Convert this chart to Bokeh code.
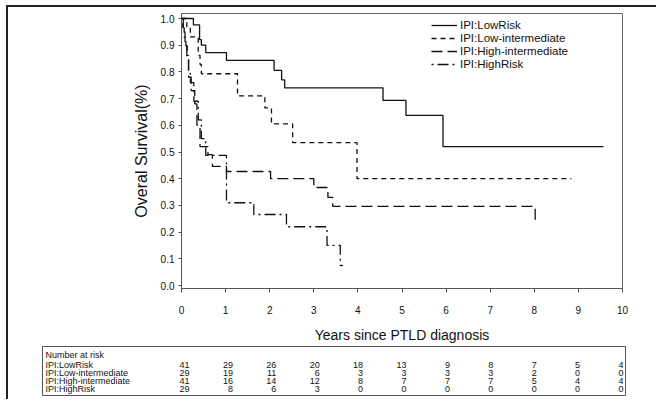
from bokeh.plotting import figure
from bokeh.models import Legend, LegendItem, Range1d, FixedTicker, CustomJSTickFormatter
from bokeh.embed import file_html
from bokeh.resources import INLINE
from bokeh.core.properties import value

# ---------------- data ----------------
series_names = ["IPI:LowRisk", "IPI:Low-intermediate", "IPI:High-intermediate", "IPI:HighRisk"]

low_t = [0.0, 0.27, 0.41, 0.45, 0.55, 1.02, 2.10, 2.27, 2.34, 4.57, 5.09, 5.93, 9.57]
low_s = [1.0, 0.976, 0.921, 0.900, 0.872, 0.843, 0.806, 0.770, 0.740, 0.693, 0.637, 0.520, 0.520]

lowint_t = [0.0, 0.12, 0.20, 0.38, 0.42, 0.45, 1.27, 1.89, 2.04, 2.52, 3.98, 8.84]
lowint_s = [1.0, 0.966, 0.931, 0.862, 0.828, 0.793, 0.710, 0.665, 0.605, 0.535, 0.400, 0.400]

highint_t = [0.0, 0.04, 0.08, 0.12, 0.16, 0.22, 0.30, 0.35, 0.42, 0.60, 0.70, 1.02, 2.02, 3.00, 3.32, 3.43, 8.02, 8.03]
highint_s = [1.0, 0.950, 0.900, 0.850, 0.780, 0.730, 0.680, 0.600, 0.520, 0.490, 0.446, 0.427, 0.400, 0.367, 0.330, 0.296, 0.232, 0.232]

high_t = [0.0, 0.03, 0.06, 0.10, 0.13, 0.16, 0.20, 0.28, 0.38, 0.45, 0.55, 1.02, 1.64, 2.38, 3.30, 3.60, 3.66]
high_s = [1.0, 0.966, 0.930, 0.897, 0.862, 0.800, 0.760, 0.690, 0.620, 0.550, 0.487, 0.310, 0.266, 0.220, 0.150, 0.075, 0.075]

x_ticks = list(range(0, 11))
y_ticks = [0.0, 0.1, 0.2, 0.3, 0.4, 0.5, 0.6, 0.7, 0.8, 0.9, 1.0]

risk_years = list(range(0, 11))
risk_labels = ["IPI:LowRisk", "IPI:Low-intermediate", "IPI:High-intermediate", "IPI:HighRisk"]
risk_low = [41, 29, 26, 20, 18, 13, 9, 8, 7, 5, 4]
risk_lowint = [29, 19, 11, 6, 3, 3, 3, 3, 2, 0, 0]
risk_highint = [41, 16, 14, 12, 8, 7, 7, 7, 5, 4, 4]
risk_high = [29, 8, 6, 3, 0, 0, 0, 0, 0, 0, 0]

FONT = "Liberation Sans"
OX, OY = 8, 7        # canvas offset of figures (outer frame line before it)
W = 658 - OX
LEFT = 181 - OX      # figure x of year 0
RIGHT = 622 - OX     # figure x of year 10
TOP_H = 345 - OY
FRAME_TOP = 13 - OY
FRAME_BOTTOM = 288 - OY

# ---------------- main KM plot ----------------
p = figure(width=W, height=TOP_H, output_backend="svg", toolbar_location=None,
           x_range=Range1d(0, 10), y_range=Range1d(-3 / 267, 1 + 5 / 267),
           min_border_left=LEFT, min_border_right=W - RIGHT, min_border_top=FRAME_TOP,
           min_border_bottom=TOP_H - FRAME_BOTTOM,
           styles={"border-top": "2px solid #222", "border-left": "2px solid #222",
                   "margin-left": "6px", "margin-top": "5px"})
p.background_fill_color = "white"
p.border_fill_color = "white"
p.outline_line_color = "#666666"
p.outline_line_width = 1
p.xgrid.visible = False
p.ygrid.visible = False

styles = [
    dict(line_dash="solid"),
    dict(line_dash="5 4"),
    dict(line_dash="11 5"),
    dict(line_dash="2 4 11 4"),
]
data = [(low_t, low_s), (lowint_t, lowint_s), (highint_t, highint_s), (high_t, high_s)]
items = []
for name, (tt, ss), st in zip(series_names, data, styles):
    r = p.step(tt, ss, mode="after", line_color="#111111", line_width=1.3, **st)
    items.append(LegendItem(label=name, renderers=[r]))

legend = Legend(items=items, location=(250, 218), padding=0, margin=0,
                spacing=1, label_height=12, glyph_height=12, glyph_width=26,
                label_standoff=3, label_text_font=FONT, label_text_font_size="11.5px",
                label_text_color="#111111", background_fill_alpha=0, border_line_color=None)
p.add_layout(legend, "center")

for ax in (p.xaxis, p.yaxis):
    ax.axis_line_color = "#555555"
    ax.major_tick_line_color = "#555555"
    ax.minor_tick_line_color = None
    ax.major_tick_in = 0
    ax.major_label_text_font = FONT
    ax.major_label_text_color = "#111111"
    ax.axis_label_text_font = FONT
    ax.axis_label_text_font_style = "normal"
    ax.axis_label_text_color = "#111111"

p.xaxis.ticker = FixedTicker(ticks=x_ticks)
p.xaxis.major_tick_out = 4
p.xaxis.major_label_standoff = 13
p.xaxis.major_label_text_font_size = "10px"
p.xaxis.axis_label = "Years since PTLD diagnosis"
p.xaxis.axis_label_standoff = 10
p.xaxis.axis_label_text_font_size = "14px"

p.yaxis.ticker = FixedTicker(ticks=y_ticks)
p.yaxis.major_tick_out = 3
p.yaxis.major_label_standoff = 4
p.yaxis.major_label_text_font_size = "10px"
p.yaxis.formatter = CustomJSTickFormatter(code="return tick.toFixed(1);")
p.yaxis.axis_label = "Overal Survival(%)"
p.yaxis.axis_label_standoff = 8
p.yaxis.axis_label_text_font_size = "16px"

# ---------------- number at risk table (separate root, no frame alignment) ----------------
TH = 56
T_PX = 43.4          # column spacing of the at-risk table
t = figure(width=W, height=TH, output_backend="svg", toolbar_location=None,
           x_range=Range1d(-LEFT / T_PX, (W - LEFT) / T_PX),
           y_range=Range1d(TH, 0), x_axis_location=None, y_axis_location=None,
           min_border=0, min_border_left=0, min_border_right=0, min_border_top=0,
           min_border_bottom=0,
           styles={"border-left": "2px solid #222", "margin-left": "6px"})
t.outline_line_color = None
t.xgrid.visible = False
t.ygrid.visible = False
t.background_fill_color = "white"
t.border_fill_color = "white"

box_left = (42 - 181) / T_PX
box_right = (625 - 181) / T_PX
t.quad(left=[box_left], right=[box_right], top=[3], bottom=[52],
       fill_color=None, line_color="#555555", line_width=1)

lab_x = (45 - 181) / T_PX
t.text(x=[lab_x], y=[11], text=["Number at risk"], text_font=value(FONT),
       text_font_size="9px", text_baseline="middle", text_align="left", text_color="#111111")
row_y = [21, 29, 37, 45]
t.text(x=[lab_x] * 4, y=row_y, text=risk_labels, text_font=value(FONT),
       text_font_size="9px", text_baseline="middle", text_align="left", text_color="#111111")
for yy, vals in zip(row_y, [risk_low, risk_lowint, risk_highint, risk_high]):
    t.text(x=risk_years, y=[yy] * len(risk_years), text=[str(v) for v in vals],
           text_font=value(FONT), text_font_size="9px", text_baseline="middle",
           text_align="right", x_offset=8, text_color="#111111")

open("out.html", "w").write(file_html([p, t], INLINE))
